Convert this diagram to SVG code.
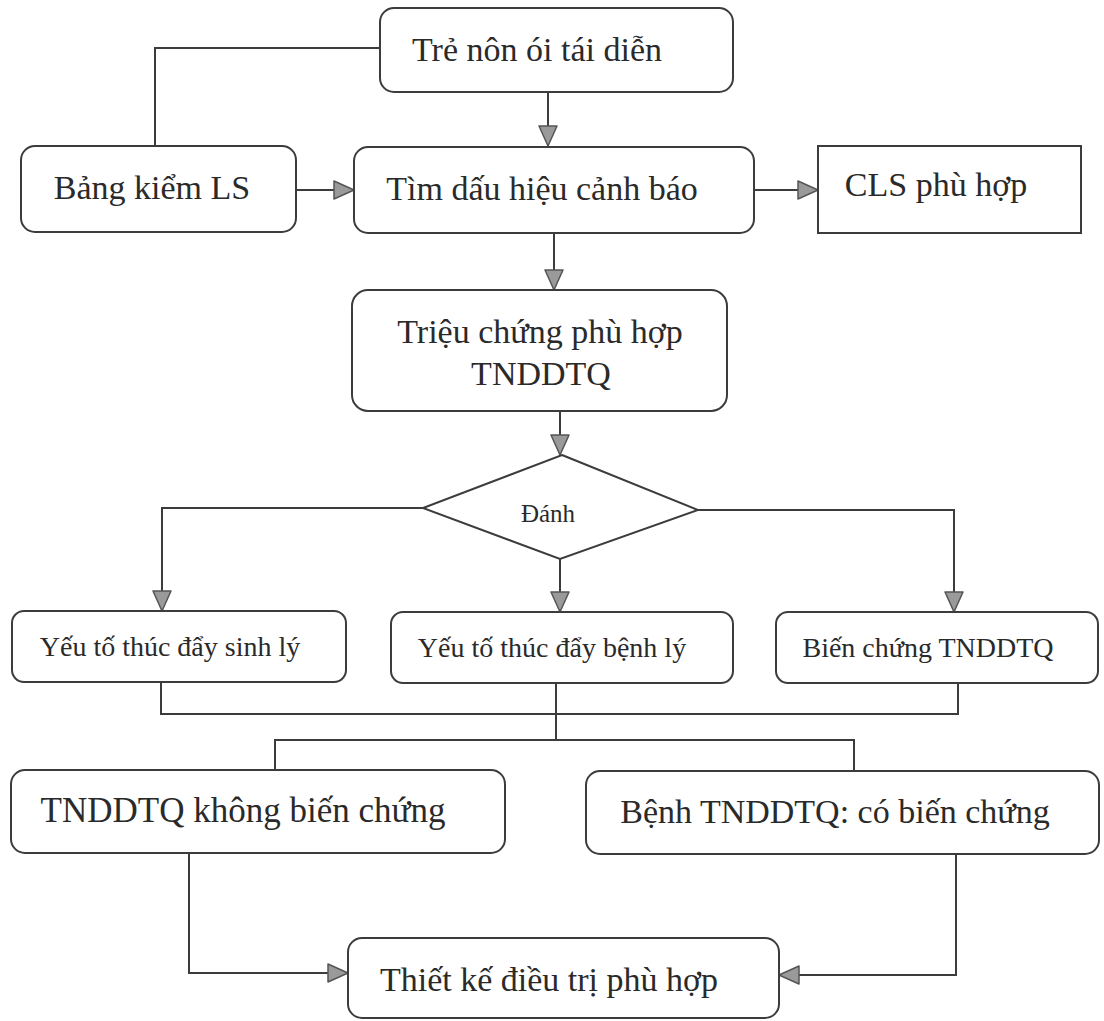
<svg xmlns="http://www.w3.org/2000/svg" width="1104" height="1021" viewBox="0 0 1104 1021">
<defs>
<marker id="ah" viewBox="0 0 22 20" refX="21" refY="10" markerWidth="22" markerHeight="20" markerUnits="userSpaceOnUse" orient="auto">
<path d="M1,1 L21,10 L1,19 Z" fill="#9a9a9a" stroke="#555" stroke-width="1.5" stroke-linejoin="round"/>
</marker>
<style>
.box{fill:#fff;stroke:#3c3c3c;stroke-width:2}
.t{font-family:"Liberation Serif","Times New Roman",serif;fill:#2a2a2a;text-anchor:middle}
.big{font-size:34px}
.mid{font-size:28px}
.sm{font-size:25px}
.c{fill:none;stroke:#3c3c3c;stroke-width:2}
</style>
</defs>
<rect width="1104" height="1021" fill="#fff"/>
<g id="connectors">
<polyline class="c" points="380,48 155,48 155,146"/>
<polyline class="c" points="548,92 548,146" marker-end="url(#ah)"/>
<polyline class="c" points="296,190 354,190" marker-end="url(#ah)"/>
<polyline class="c" points="754,190 818,190" marker-end="url(#ah)"/>
<polyline class="c" points="554,233 554,290" marker-end="url(#ah)"/>
<polyline class="c" points="560,411 560,455" marker-end="url(#ah)"/>
<polyline class="c" points="423,508 162,508 162,611" marker-end="url(#ah)"/>
<polyline class="c" points="560,559 560,612" marker-end="url(#ah)"/>
<polyline class="c" points="698,510 954,510 954,612" marker-end="url(#ah)"/>
<polyline class="c" points="161,682 161,714 958,714 958,683"/>
<polyline class="c" points="556,683 556,740"/>
<polyline class="c" points="275,770 275,740 854,740 854,771"/>
<polyline class="c" points="189,853 189,973 348,973" marker-end="url(#ah)"/>
<polyline class="c" points="956,854 956,975 779,975" marker-end="url(#ah)"/>
</g>
<g id="n1"><rect class="box" x="380" y="8" width="353" height="84" rx="14"/><text class="t big" x="537" y="61">Trẻ nôn ói tái diễn</text></g>
<g id="n2"><rect class="box" x="21" y="146" width="275" height="86" rx="14"/><text class="t big" x="152" y="199">Bảng kiểm LS</text></g>
<g id="n3"><rect class="box" x="354" y="147" width="400" height="86" rx="14"/><text class="t big" x="542" y="200">Tìm dấu hiệu cảnh báo</text></g>
<g id="n4"><rect class="box" x="818" y="146" width="263" height="87" rx="0"/><text class="t big" x="936" y="196">CLS phù hợp</text></g>
<g id="n5"><rect class="box" x="352" y="290" width="375" height="121" rx="16"/><text class="t big" x="540" y="343">Triệu chứng phù hợp</text><text class="t big" x="541" y="385">TNDDTQ</text></g>
<g id="n6"><polygon class="box" points="562,455 698,510 560,559 423,508"/><text class="t sm" x="548" y="522">Đánh</text></g>
<g id="n7"><rect class="box" x="12" y="611" width="334" height="71" rx="12"/><text class="t mid" x="170" y="656">Yếu tố thúc đẩy sinh lý</text></g>
<g id="n8"><rect class="box" x="391" y="612" width="342" height="71" rx="12"/><text class="t mid" x="552" y="657">Yếu tố thúc đẩy bệnh lý</text></g>
<g id="n9"><rect class="box" x="776" y="612" width="322" height="71" rx="12"/><text class="t mid" x="928" y="657">Biến chứng TNDDTQ</text></g>
<g id="n10"><rect class="box" x="11" y="770" width="494" height="83" rx="14"/><text class="t big" x="243" y="822" style="font-size:35px">TNDDTQ không biến chứng</text></g>
<g id="n11"><rect class="box" x="586" y="771" width="513" height="83" rx="14"/><text class="t big" x="835" y="823">Bệnh TNDDTQ: có biến chứng</text></g>
<g id="n12"><rect class="box" x="348" y="938" width="431" height="80" rx="14"/><text class="t big" x="549" y="991">Thiết kế điều trị phù hợp</text></g>
</svg>
